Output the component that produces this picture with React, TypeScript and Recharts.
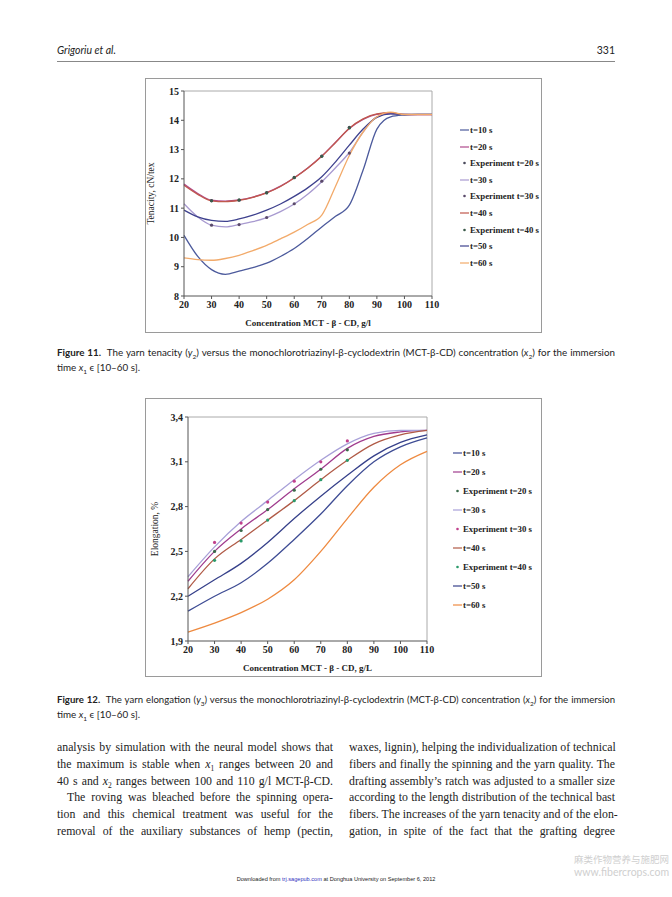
import React from 'react';
import { LineChart, Line, XAxis, YAxis, ReferenceLine } from 'recharts';

// Figure 11 – tenacity, cN/tex
const concentration = [20, 25, 30, 35, 40, 45, 50, 55, 60, 65, 70, 75, 80, 85, 90, 95, 100, 105, 110];
const tenacity10 = [10.07, 9.35, 8.9, 8.74, 8.85, 8.97, 9.12, 9.35, 9.62, 9.97, 10.36, 10.72, 11.1, 12.3, 13.7, 14.12, 14.18, 14.2, 14.2];
const tenacity20 = [11.82, 11.5, 11.27, 11.24, 11.28, 11.38, 11.53, 11.75, 12.04, 12.38, 12.78, 13.25, 13.72, 14.03, 14.2, 14.24, 14.2, 14.19, 14.19];
const tenacity30 = [11.15, 10.7, 10.42, 10.36, 10.44, 10.54, 10.68, 10.88, 11.14, 11.48, 11.9, 12.38, 12.9, 13.6, 14.12, 14.22, 14.2, 14.2, 14.2];
const tenacity40 = [11.78, 11.47, 11.25, 11.22, 11.27, 11.37, 11.52, 11.74, 12.03, 12.37, 12.77, 13.24, 13.73, 14.05, 14.22, 14.26, 14.19, 14.19, 14.19];
const tenacity50 = [10.93, 10.7, 10.58, 10.55, 10.63, 10.76, 10.93, 11.14, 11.4, 11.7, 12.07, 12.58, 13.15, 13.7, 14.1, 14.22, 14.2, 14.2, 14.2];
const tenacity60 = [9.3, 9.24, 9.22, 9.28, 9.39, 9.55, 9.73, 9.95, 10.18, 10.45, 10.76, 11.75, 12.8, 13.6, 14.12, 14.28, 14.2, 14.2, 14.2];

const expConcentration = [30, 40, 50, 60, 70, 80];
const tenacityExp20 = [11.26, 11.27, 11.53, 12.05, 12.78, 13.76];
const tenacityExp30 = [10.42, 10.44, 10.68, 11.15, 11.92, 12.88];
const tenacityExp40 = [11.25, 11.28, 11.52, 12.04, 12.77, 13.74];

// Figure 12 – elongation, %
const concentration2 = [20, 30, 40, 50, 60, 70, 80, 90, 100, 110];
const elong10 = [2.1, 2.2, 2.29, 2.42, 2.58, 2.75, 2.94, 3.1, 3.2, 3.26];
const elong20 = [2.3, 2.5, 2.65, 2.78, 2.92, 3.05, 3.19, 3.27, 3.3, 3.31];
const elong30 = [2.33, 2.53, 2.7, 2.84, 2.98, 3.11, 3.22, 3.29, 3.31, 3.31];
const elong40 = [2.25, 2.45, 2.58, 2.71, 2.84, 2.98, 3.11, 3.22, 3.28, 3.31];
const elong50 = [2.2, 2.31, 2.42, 2.56, 2.72, 2.87, 3.01, 3.14, 3.23, 3.28];
const elong60 = [1.96, 2.02, 2.09, 2.18, 2.31, 2.5, 2.72, 2.93, 3.08, 3.17];
const elongExp20 = [2.5, 2.64, 2.78, 2.91, 3.05, 3.18];
const elongExp30 = [2.56, 2.69, 2.83, 2.97, 3.1, 3.24];
const elongExp40 = [2.44, 2.57, 2.71, 2.84, 2.98, 3.11];

const xTicks = [20, 30, 40, 50, 60, 70, 80, 90, 100, 110];
const tenacityTicks = [8, 9, 10, 11, 12, 13, 14, 15];
const elongTicks = [1.9, 2.2, 2.5, 2.8, 3.1, 3.4];

const seriesKeys = ['t10', 't20', 'e20', 't30', 'e30', 't40', 'e40', 't50', 't60'];
const seriesNames = ['t=10 s', 't=20 s', 'Experiment t=20 s', 't=30 s', 'Experiment t=30 s', 't=40 s', 'Experiment t=40 s', 't=50 s', 't=60 s'];
const colors1 = ['#4c5a9c', '#b04a8c', '#4a4a5a', '#a89ad0', '#5a4a6a', '#c0584c', '#3a5a4a', '#3e418e', '#f2aa6a'];
const colors2 = ['#3e4c94', '#a03c8e', '#3a6a4a', '#a8a0d8', '#c0408c', '#b05a46', '#2a9a6a', '#36408a', '#ee8a40'];

function buildRows(xs: number[], curves: number[][], exps: number[][]) {
  return xs.map((x, i) => {
    const row: Record<string, number | undefined> = { x };
    const curveKeys = ['t10', 't20', 't30', 't40', 't50', 't60'];
    curveKeys.forEach((k, j) => (row[k] = curves[j][i]));
    const ei = expConcentration.indexOf(x);
    ['e20', 'e30', 'e40'].forEach((k, j) => (row[k] = ei >= 0 ? exps[j][ei] : undefined));
    return row;
  });
}

const rows1 = buildRows(
  concentration,
  [tenacity10, tenacity20, tenacity30, tenacity40, tenacity50, tenacity60],
  [tenacityExp20, tenacityExp30, tenacityExp40]
);
const rows2 = buildRows(
  concentration2,
  [elong10, elong20, elong30, elong40, elong50, elong60],
  [elongExp20, elongExp30, elongExp40]
);

const serif = '"Liberation Serif", "Times New Roman", serif';
const sans = 'Lato, "Open Sans", sans-serif';
const tickStyle = { fontFamily: serif, fontSize: 10, fontWeight: 700, fill: '#222' };

function Series({ colors }: { colors: string[] }) {
  return (
    <>
      {seriesKeys.map((k, i) =>
        k.startsWith('e') ? (
          <Line key={k} dataKey={k} stroke="none" isAnimationActive={false}
            dot={{ r: 1.6, fill: colors[i], stroke: 'none' }} activeDot={false} />
        ) : (
          <Line key={k} dataKey={k} type="monotone" stroke={colors[i]} strokeWidth={1.3}
            dot={false} isAnimationActive={false} />
        )
      )}
    </>
  );
}

function Legend({ left, top, step, colors, lineW }: { left: number; top: number; step: number; colors: string[]; lineW: number }) {
  return (
    <div style={{ position: 'absolute', left, top }}>
      {seriesNames.map((name, i) => (
        <div key={name} style={{ position: 'absolute', top: i * step - 6, left: 0, height: 12, display: 'flex', alignItems: 'center', whiteSpace: 'nowrap' }}>
          <svg width={lineW + 1} height={12}>
            {seriesKeys[i].startsWith('e') ? (
              <circle cx={lineW / 2} cy={6} r={1.3} fill={colors[i]} />
            ) : (
              <line x1={0} x2={lineW} y1={6} y2={6} stroke={colors[i]} strokeWidth={1.2} />
            )}
          </svg>
          <span style={{ fontFamily: serif, fontSize: 8.8, fontWeight: 700, color: '#222' }}>{name}</span>
        </div>
      ))}
    </div>
  );
}

function TenacityChart() {
  return (
    <div style={{ position: 'absolute', left: 145, top: 78, width: 397, height: 255, border: '1px solid #9a9a9a', boxSizing: 'border-box' }}>
      <div style={{ position: 'absolute', left: -1, top: -1 }}>
        <LineChart width={397} height={255} data={rows1} margin={{ top: 13, right: 110, left: 2, bottom: 7 }}>
          <XAxis dataKey="x" type="number" domain={[20, 110]} ticks={xTicks} tick={tickStyle}
            stroke="#555" tickSize={3} height={30}
            label={{ value: 'Concentration MCT - β - CD, g/l', position: 'insideBottom', offset: 0, style: { ...tickStyle, fontSize: 9 } }} />
          <YAxis type="number" domain={[8, 15]} ticks={tenacityTicks} tick={tickStyle}
            stroke="#555" tickSize={3} width={37}
            label={{ value: 'Tenacity, cN/tex', angle: -90, position: 'insideLeft', offset: 4, style: { ...tickStyle, fontSize: 9.5, fontWeight: 400, textAnchor: 'middle' } }} />
          <ReferenceLine y={15} stroke="#aaa" />
          <ReferenceLine x={110} stroke="#aaa" />
          {Series({ colors: colors1 })}
        </LineChart>
      </div>
    </div>
  );
}

function ElongationChart() {
  return (
    <div style={{ position: 'absolute', left: 145, top: 398, width: 397, height: 279, border: '1px solid #9a9a9a', boxSizing: 'border-box' }}>
      <div style={{ position: 'absolute', left: -1, top: -1 }}>
        <LineChart width={397} height={279} data={rows2} margin={{ top: 19, right: 115, left: 6, bottom: 6 }}>
          <XAxis dataKey="x" type="number" domain={[20, 110]} ticks={xTicks} tick={tickStyle}
            stroke="#555" tickSize={3} height={30}
            label={{ value: 'Concentration MCT - β - CD, g/L', position: 'insideBottom', offset: 0, style: { ...tickStyle, fontSize: 9 } }} />
          <YAxis type="number" domain={[1.9, 3.4]} ticks={elongTicks} tick={tickStyle}
            tickFormatter={(v: number) => v.toFixed(1).replace('.', ',')}
            stroke="#555" tickSize={3} width={37}
            label={{ value: 'Elongation, %', angle: -90, position: 'insideLeft', offset: 4, style: { ...tickStyle, fontSize: 9.5, fontWeight: 400, textAnchor: 'middle' } }} />
          <ReferenceLine y={3.4} stroke="#aaa" />
          <ReferenceLine x={110} stroke="#aaa" />
          {Series({ colors: colors2 })}
        </LineChart>
      </div>
    </div>
  );
}

const bodyLine: React.CSSProperties = {
  position: 'absolute', fontFamily: serif, fontSize: 11.8, color: '#222', whiteSpace: 'nowrap',
  textAlign: 'justify', textAlignLast: 'justify', height: 17, lineHeight: '17px',
};

const leftLines: React.ReactNode[] = [
  'analysis by simulation with the neural model shows that',
  <>the maximum is stable when <i>x</i><sub style={{ fontSize: 7.5 }}>1</sub> ranges between 20 and</>,
  <>40 s and <i>x</i><sub style={{ fontSize: 7.5 }}>2</sub> ranges between 100 and 110 g/l MCT-β-CD.</>,
  'The roving was bleached before the spinning opera-',
  'tion and this chemical treatment was useful for the',
  'removal of the auxiliary substances of hemp (pectin,',
];
const rightLines = [
  'waxes, lignin), helping the individualization of technical',
  'fibers and finally the spinning and the yarn quality. The',
  'drafting assembly’s ratch was adjusted to a smaller size',
  'according to the length distribution of the technical bast',
  'fibers. The increases of the yarn tenacity and of the elon-',
  'gation, in spite of the fact that the grafting degree',
];

const captionStyle: React.CSSProperties = {
  position: 'absolute', left: 57, width: 558, fontFamily: sans, fontSize: 9.8, color: '#222',
  whiteSpace: 'nowrap', height: 15, lineHeight: '15px',
};

export default function App() {
  return (
    <div style={{ position: 'fixed', left: 0, top: 0, width: 672, height: 897, background: '#fff', overflow: 'hidden' }}>
      {/* running head */}
      <div style={{ position: 'absolute', left: 57, top: 44, fontFamily: sans, fontStyle: 'italic', fontSize: 10.5, color: '#222' }}>Grigoriu et al.</div>
      <div style={{ position: 'absolute', left: 585, width: 30, top: 44, textAlign: 'right', fontFamily: sans, fontSize: 10.5, color: '#222' }}>331</div>
      <div style={{ position: 'absolute', left: 57, top: 61, width: 558, height: 1, background: '#888' }} />

      <TenacityChart />
      <Legend left={460} top={130} step={16.6} colors={colors1} lineW={9} />
      <div style={{ ...captionStyle, top: 345, textAlign: 'justify', textAlignLast: 'justify' }}>
        <b>Figure 11.</b>&nbsp; The yarn tenacity (<i>y</i><sub style={{ fontSize: 6.5 }}>2</sub>) versus the monochlorotriazinyl-β-cyclodextrin (MCT-β-CD) concentration (<i>x</i><sub style={{ fontSize: 6.5 }}>2</sub>) for the immersion
      </div>
      <div style={{ ...captionStyle, top: 360 }}>
        time <i>x</i><sub style={{ fontSize: 6.5 }}>1</sub> ϵ [10–60 s].
      </div>

      <ElongationChart />
      <Legend left={453} top={453} step={19} colors={colors2} lineW={9} />
      <div style={{ ...captionStyle, top: 692, fontSize: 9.6, textAlign: 'justify', textAlignLast: 'justify' }}>
        <b>Figure 12.</b>&nbsp; The yarn elongation (<i>y</i><sub style={{ fontSize: 6.5 }}>3</sub>) versus the monochlorotriazinyl-β-cyclodextrin (MCT-β-CD) concentration (<i>x</i><sub style={{ fontSize: 6.5 }}>2</sub>) for the immersion
      </div>
      <div style={{ ...captionStyle, top: 707 }}>
        time <i>x</i><sub style={{ fontSize: 6.5 }}>1</sub> ϵ [10–60 s].
      </div>

      {leftLines.map((l, i) => (
        <div key={'l' + i} style={{ ...bodyLine, left: i === 3 ? 67 : 57, width: i === 3 ? 266 : 276, top: 739 + i * 16.8 }}>{l}</div>
      ))}
      {rightLines.map((l, i) => (
        <div key={'r' + i} style={{ ...bodyLine, left: 349, width: 266, top: 739 + i * 16.8 }}>{l}</div>
      ))}

      <div style={{ position: 'absolute', left: 0, width: 672, top: 876, textAlign: 'center', fontFamily: '"Liberation Sans", Arial, sans-serif', fontSize: 5.6, color: '#222' }}>
        Downloaded from <span style={{ color: '#3030c0' }}>trj.sagepub.com</span> at Donghua University on September 6, 2012
      </div>
      <div style={{ position: 'absolute', left: 574, top: 852, fontFamily: '"Noto Sans CJK SC", sans-serif', fontSize: 9.5, color: '#cfcfcf', whiteSpace: 'nowrap' }}>麻类作物营养与施肥网</div>
      <div style={{ position: 'absolute', left: 574, top: 866, fontFamily: sans, fontSize: 10.5, color: '#cfcfcf', whiteSpace: 'nowrap' }}>www.fibercrops.com</div>
    </div>
  );
}
